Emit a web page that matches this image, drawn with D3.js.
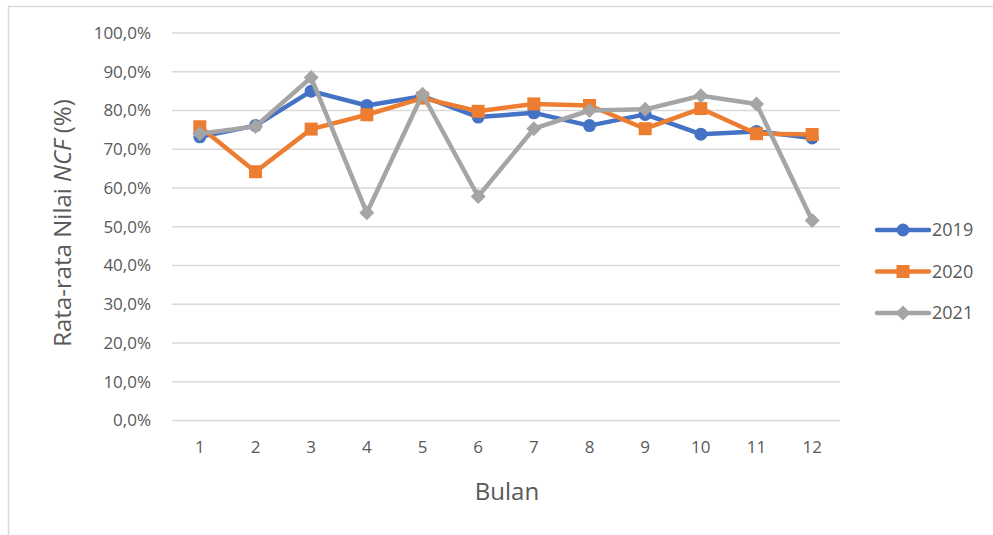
<!DOCTYPE html>
<html>
<head>
<meta charset="utf-8">
<script src="https://cdn.jsdelivr.net/npm/d3@7"></script>
<style>
  body { margin: 0; background: #fff; }
  text { font-family: "Open Sans", "Noto Sans", sans-serif; fill: #595959; }
</style>
</head>
<body>
<div id="chart"></div>
<script>
// months on the x axis
let months = ["1", "2", "3", "4", "5", "6", "7", "8", "9", "10", "11", "12"];

// average NCF value per month, one array per year
let ncf2019 = [0.732, 0.761, 0.850, 0.813, 0.837, 0.783, 0.794, 0.761, 0.790, 0.739, 0.746, 0.729];
let ncf2020 = [0.758, 0.642, 0.752, 0.789, 0.832, 0.798, 0.817, 0.813, 0.753, 0.805, 0.740, 0.738];
let ncf2021 = [0.740, 0.759, 0.885, 0.536, 0.842, 0.578, 0.753, 0.800, 0.803, 0.838, 0.817, 0.516];

let seriesNames = ["2019", "2020", "2021"];
let yTicks = [0, 0.1, 0.2, 0.3, 0.4, 0.5, 0.6, 0.7, 0.8, 0.9, 1.0];

let width = 993;
let height = 535;

let series = [
    { name: seriesNames[0], values: ncf2019, color: "#4472C4", marker: "circle" },
    { name: seriesNames[1], values: ncf2020, color: "#ED7D31", marker: "square" },
    { name: seriesNames[2], values: ncf2021, color: "#A5A5A5", marker: "diamond" }
];

let svg = d3.select("#chart")
            .append("svg")
            .attr("width", width)
            .attr("height", height);

// chart border
svg.append("rect")
    .attr("x", 8.5)
    .attr("y", 6.5)
    .attr("width", 1200)
    .attr("height", 1000)
    .attr("fill", "none")
    .attr("stroke", "#D9D9D9")
    .attr("stroke-width", 1.5);

// scales
let xScale = d3.scaleBand()
                .domain(months)
                .range([172, 840])
                .padding(0);

let yScale = d3.scaleLinear()
                .domain([0, 1])
                .range([420.5, 33]);

let xc = (d) => xScale(d) + xScale.bandwidth() / 2;

// gridlines
svg.append("g")
    .selectAll("line")
    .data(yTicks)
    .enter()
    .append("line")
    .attr("x1", 172)
    .attr("x2", 840)
    .attr("y1", (d) => yScale(d))
    .attr("y2", (d) => yScale(d))
    .attr("stroke", "#D9D9D9")
    .attr("stroke-width", 1.3);

// y axis labels
let fmt = (d) => (d * 100).toFixed(1).replace(".", ",") + "%";
let yAxis = d3.axisLeft(yScale).tickValues(yTicks).tickFormat(fmt).tickSize(0).tickPadding(0);
let yAxisG = svg.append("g").attr("transform", "translate(151,0)").call(yAxis);
yAxisG.select(".domain").remove();
yAxisG.selectAll("text")
    .attr("font-family", "Open Sans")
    .attr("font-size", 17)
    .attr("fill", "#595959");

// x axis labels
let xAxis = d3.axisBottom(xScale).tickSize(0).tickPadding(0);
let xAxisG = svg.append("g").attr("transform", "translate(0,441)").call(xAxis);
xAxisG.select(".domain").remove();
xAxisG.selectAll("text")
    .attr("font-family", "Open Sans")
    .attr("font-size", 17)
    .attr("fill", "#595959");

// axis titles
let yTitle = svg.append("text")
    .attr("transform", "translate(71,223) rotate(-90)")
    .attr("text-anchor", "middle")
    .attr("font-size", 24);
yTitle.append("tspan").text("Rata-rata Nilai ");
yTitle.append("tspan").attr("font-style", "italic").text("NCF");
yTitle.append("tspan").text(" (%)");

svg.append("text")
    .attr("x", 507)
    .attr("y", 500)
    .attr("text-anchor", "middle")
    .attr("font-size", 24)
    .text("Bulan");

// marker drawing helper
function drawMarker(g, type, x, y, color) {
    if (type === "circle") {
        g.append("circle").attr("cx", x).attr("cy", y).attr("r", 6.5).attr("fill", color);
    } else if (type === "square") {
        g.append("rect").attr("x", x - 6.5).attr("y", y - 6.5).attr("width", 13).attr("height", 13).attr("fill", color);
    } else {
        let s = 7.5;
        g.append("path")
            .attr("d", `M${x},${y - s}L${x + s},${y}L${x},${y + s}L${x - s},${y}Z`)
            .attr("fill", color);
    }
}

let line = d3.line()
            .x((d, i) => xc(months[i]))
            .y((d) => yScale(d));

series.forEach((s) => {
    let g = svg.append("g");
    g.append("path")
        .datum(s.values)
        .attr("d", line)
        .attr("fill", "none")
        .attr("stroke", s.color)
        .attr("stroke-width", 4.5)
        .attr("stroke-linejoin", "round")
        .attr("stroke-linecap", "round");
    s.values.forEach((v, i) => drawMarker(g, s.marker, xc(months[i]), yScale(v), s.color));
});

// legend
let legendY = [230, 271.5, 313];
series.forEach((s, i) => {
    let g = svg.append("g");
    g.append("line")
        .attr("x1", 877).attr("x2", 929)
        .attr("y1", legendY[i]).attr("y2", legendY[i])
        .attr("stroke", s.color)
        .attr("stroke-width", 4.5)
        .attr("stroke-linecap", "round");
    drawMarker(g, s.marker, 903, legendY[i], s.color);
    g.append("text")
        .attr("x", 932)
        .attr("y", legendY[i])
        .attr("dy", "0.35em")
        .attr("font-size", 18)
        .text(s.name);
});
</script>
</body>
</html>
